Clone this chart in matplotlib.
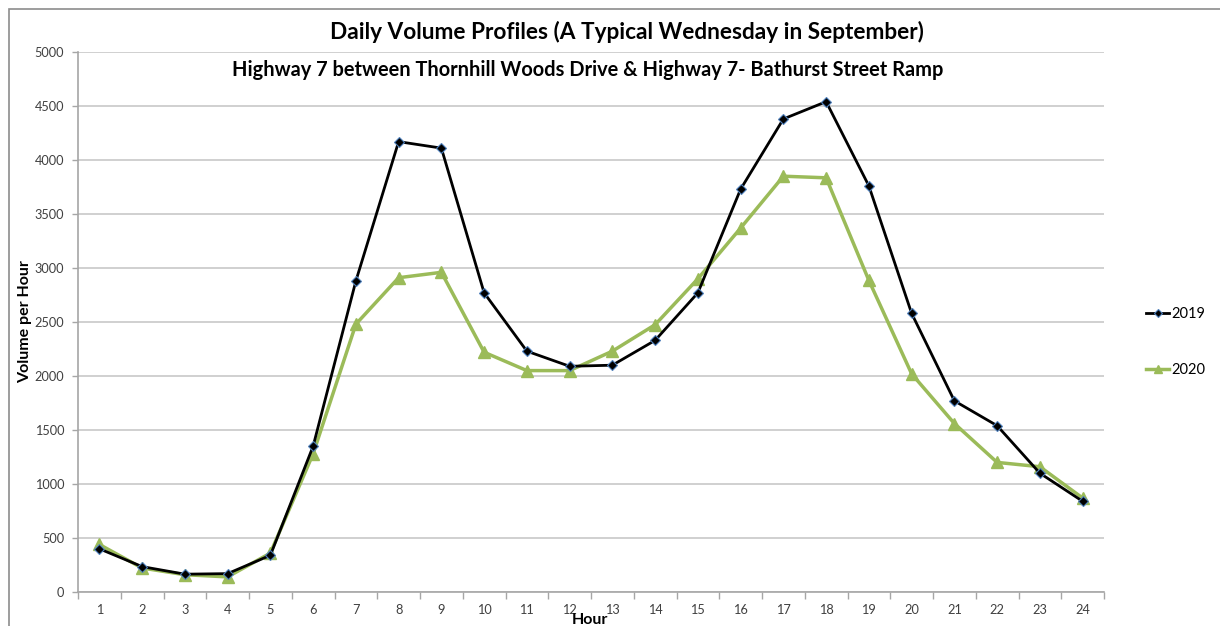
import matplotlib
matplotlib.use("Agg")
import matplotlib.pyplot as plt
from matplotlib.patches import Rectangle

hours = list(range(1, 25))
hour_labels = [str(h) for h in hours]
vol_2019 = [400, 235, 165, 170, 340, 1350, 2880, 4170, 4110, 2770, 2230, 2090,
            2100, 2330, 2770, 3730, 4380, 4540, 3760, 2580, 1770, 1540, 1100, 840]
vol_2020 = [440, 222, 160, 140, 360, 1280, 2480, 2910, 2960, 2220, 2050, 2050,
            2230, 2475, 2900, 3370, 3850, 3835, 2885, 2020, 1560, 1200, 1160, 870]
y_ticks = list(range(0, 5001, 500))

title = "Daily Volume Profiles (A Typical Wednesday in September)"
subtitle = "Highway 7 between Thornhill Woods Drive & Highway 7- Bathurst Street Ramp"

plt.rcParams['font.family'] = ['Lato', 'DejaVu Sans']

W, H = 1220, 626
fig = plt.figure(figsize=(W / 100, H / 100), dpi=100)
ax = fig.add_axes([78 / W, 1 - 592 / H, (1104 - 78) / W, (592 - 52) / H])

# figure border
fig.patches.append(Rectangle((9 / W, -0.05), 1.2, 1 - 9 / H + 0.05,
                             transform=fig.transFigure, fill=False,
                             edgecolor='#8c8c8c', linewidth=1.2))

ax.plot(hours, vol_2019, color='black', linewidth=2.0, marker='D', markersize=5.5,
        markerfacecolor='black', markeredgecolor='#4f81bd', markeredgewidth=0.8,
        label='2019', zorder=4)
ax.plot(hours, vol_2020, color='#9bbb59', linewidth=2.5, marker='^', markersize=9,
        markerfacecolor='#9bbb59', markeredgecolor='#9bbb59', label='2020', zorder=3)

ax.set_xlim(0.5, 24.5)
ax.set_ylim(0, 5000)
ax.set_yticks(y_ticks)
ax.set_yticklabels([str(v) for v in y_ticks])
ax.set_xticks(hours)
ax.set_xticklabels(hour_labels)
ax.set_xticks([h + 0.5 for h in range(0, 25)], minor=True)
ax.tick_params(axis='x', which='major', length=0, pad=9, labelsize=9.2, colors='#404040')
ax.tick_params(axis='x', which='minor', length=5, width=1, color='#a6a6a6', direction='out')
ax.tick_params(axis='y', length=4, width=1, color='#a6a6a6', pad=6, labelsize=9.2,
               labelcolor='#404040')

ax.grid(axis='y', color='#c8c8c8', linewidth=1.2)
ax.set_axisbelow(True)
for s in ['top', 'right']:
    ax.spines[s].set_visible(False)
for s in ['left', 'bottom']:
    ax.spines[s].set_color('#a6a6a6')
    ax.spines[s].set_linewidth(1.2)

fig.text(627 / W, 1 - 32 / H, title, ha='center', va='center', fontsize=16.3,
         fontweight='bold', color='black')
fig.text(588 / W, 1 - 70 / H, subtitle, ha='center', va='center', fontsize=14.4,
         fontweight='bold', color='black')
fig.text(25 / W, 1 - 322 / H, 'Volume per Hour', rotation=90, ha='center', va='center',
         fontsize=11.5, fontweight='bold')
fig.text(590 / W, 1 - 620 / H, 'Hour', ha='center', va='center', fontsize=11.5,
         fontweight='bold')

leg = ax.legend(loc='upper left', bbox_to_anchor=(1140 / W, 1 - 301 / H),
                bbox_transform=fig.transFigure, frameon=False, fontsize=10.5,
                handlelength=1.6, handletextpad=0.15, labelspacing=2.9,
                markerscale=0.7, borderaxespad=0, borderpad=0.4)

fig.savefig('out.png', dpi=100)
